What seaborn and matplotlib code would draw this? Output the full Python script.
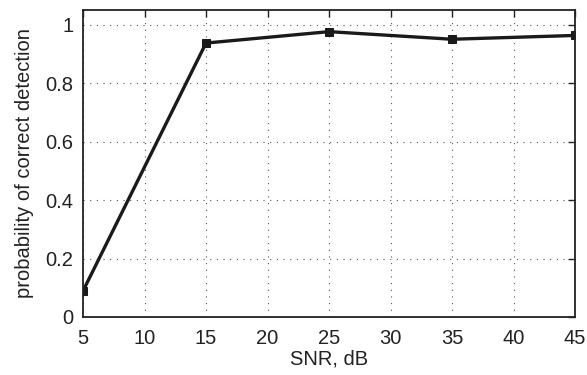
import matplotlib
matplotlib.use("Agg")
import matplotlib.pyplot as plt
import seaborn as sns
import pandas as pd

snr_db = [5, 15, 25, 35, 45]
p_detect = [0.089, 0.937, 0.976, 0.950, 0.963]
x_ticks = [5, 10, 15, 20, 25, 30, 35, 40, 45]
y_ticks = [0, 0.2, 0.4, 0.6, 0.8, 1]
y_tick_labels = ["0", "0.2", "0.4", "0.6", "0.8", "1"]

sns.set_style("white")
plt.rcParams['font.family'] = ['Liberation Sans', 'DejaVu Sans']

df = pd.DataFrame({"snr": snr_db, "p": p_detect})

fig = plt.figure(figsize=(5.87, 3.75), dpi=100)
ax = fig.add_axes([0.1414, 0.1547, 0.9796 - 0.1414, 0.9733 - 0.1547])
sns.lineplot(data=df, x="snr", y="p", ax=ax, color="#1a1a1a", linewidth=2.4,
             marker="s", markersize=6, markeredgecolor="#1a1a1a", markerfacecolor="#1a1a1a")

ax.set_xlim(5, 45)
ax.set_ylim(0, 1.05)
ax.set_xticks(x_ticks)
ax.set_yticks(y_ticks)
ax.set_yticklabels(y_tick_labels)
ax.grid(True, linestyle=(0, (1, 5)), color="#555555", linewidth=0.8)
ax.tick_params(direction="in", top=True, right=True, length=5, width=1,
               labelsize=14.5, colors="#222222")
ax.tick_params(axis="x", pad=9)
ax.tick_params(axis="y", pad=7)
for s in ax.spines.values():
    s.set_linewidth(1.3)
    s.set_color("#222222")
    s.set_visible(True)
ax.set_xlabel("SNR, dB", fontsize=14.5, color="#222222", labelpad=1)
ax.set_ylabel("probability of correct detection", fontsize=14.5, color="#222222", labelpad=8)

fig.savefig("out.png", dpi=100)
